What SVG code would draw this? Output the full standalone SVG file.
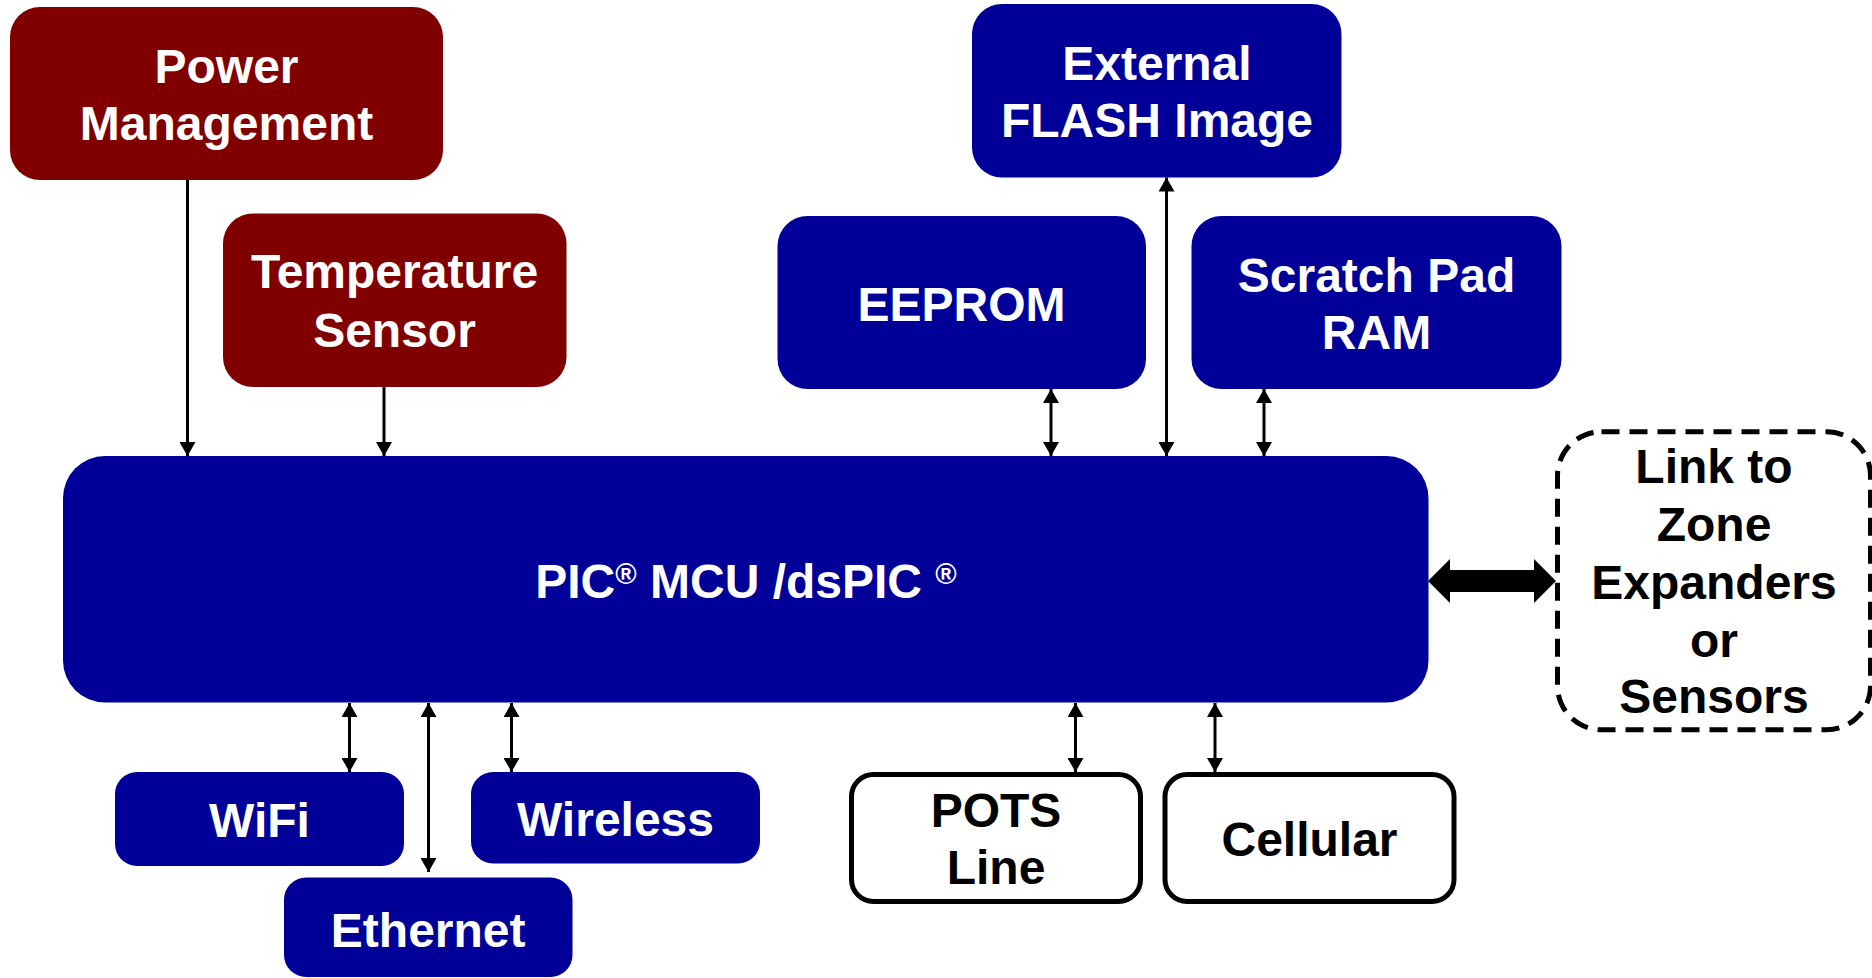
<svg xmlns="http://www.w3.org/2000/svg" width="1872" height="978" viewBox="0 0 1872 978">
<defs>
<style>
.red{fill:#800000}
.blue{fill:#000099}
.wt{fill:#ffffff;font-family:"Liberation Sans",Arial,sans-serif;font-weight:bold;font-size:48px;text-anchor:middle}
.bt{fill:#000000;font-family:"Liberation Sans",Arial,sans-serif;font-weight:bold;font-size:48px;text-anchor:middle}
.ob{fill:#ffffff;stroke:#000000;stroke-width:5}
.dash{fill:#ffffff;stroke:#000000;stroke-width:5;stroke-dasharray:18 10}
.ln{stroke:#000000;stroke-width:3;fill:none}
.one{marker-end:url(#ah)}
.two{marker-start:url(#ah);marker-end:url(#ah)}
</style>
<marker id="ah" markerUnits="userSpaceOnUse" markerWidth="16" markerHeight="16" refX="14" refY="8" orient="auto-start-reverse" viewBox="0 0 16 16">
<path d="M0,0 L14,8 L0,16 z" fill="#000000"/>
</marker>
</defs>
<rect width="1872" height="978" fill="#ffffff"/>

<g id="connectors">
<line class="ln one" x1="187.5" y1="180" x2="187.5" y2="456"/>
<line class="ln one" x1="384" y1="387" x2="384" y2="456"/>
<line class="ln two" x1="1051" y1="389" x2="1051" y2="456"/>
<line class="ln two" x1="1166.5" y1="177.5" x2="1166.5" y2="456"/>
<line class="ln two" x1="1264" y1="389" x2="1264" y2="456"/>
<line class="ln two" x1="349.5" y1="703" x2="349.5" y2="772"/>
<line class="ln two" x1="428.5" y1="703" x2="428.5" y2="872"/>
<line class="ln two" x1="511.5" y1="703" x2="511.5" y2="772"/>
<line class="ln two" x1="1075.5" y1="703" x2="1075.5" y2="772"/>
<line class="ln two" x1="1215" y1="703" x2="1215" y2="772"/>
<polygon points="1428,581 1450,559 1450,570 1534,570 1534,559 1556,581 1534,603 1534,592 1450,592 1450,603" fill="#000000"/>
</g>

<g id="power">
<rect class="red" x="10" y="7" width="433" height="173" rx="30"/>
<text class="wt" x="226.5" y="82.7">Power</text>
<text class="wt" x="226.5" y="140">Management</text>
</g>
<g id="temperature">
<rect class="red" x="223" y="213.5" width="343.5" height="173.5" rx="30"/>
<text class="wt" x="394.5" y="288.3">Temperature</text>
<text class="wt" x="394.5" y="346.7">Sensor</text>
</g>
<g id="flash">
<rect class="blue" x="972" y="4" width="369.5" height="173.5" rx="30"/>
<text class="wt" x="1157" y="80">External</text>
<text class="wt" x="1157" y="137.3">FLASH Image</text>
</g>
<g id="eeprom">
<rect class="blue" x="777.5" y="216" width="368.5" height="173" rx="30"/>
<text class="wt" x="961.5" y="320.7">EEPROM</text>
</g>
<g id="scratchpad">
<rect class="blue" x="1191.5" y="216" width="370" height="173" rx="30"/>
<text class="wt" x="1376.5" y="292">Scratch Pad</text>
<text class="wt" x="1376.5" y="349.3">RAM</text>
</g>
<g id="mcu">
<rect class="blue" x="63" y="456" width="1365.5" height="246.5" rx="42"/>
<text class="wt" x="746" y="597.7">PIC<tspan font-size="29" dy="-14">®</tspan><tspan dy="14"> MCU /dsPIC </tspan><tspan font-size="29" dy="-14">®</tspan></text>
</g>
<g id="link">
<rect class="dash" x="1557.5" y="431.8" width="313" height="298" rx="44"/>
<text class="bt" x="1714" y="483.3">Link to</text>
<text class="bt" x="1714" y="540.7">Zone</text>
<text class="bt" x="1714" y="599">Expanders</text>
<text class="bt" x="1714" y="656.7">or</text>
<text class="bt" x="1714" y="713.3">Sensors</text>
</g>
<g id="wifi">
<rect class="blue" x="115" y="772" width="289" height="94" rx="22"/>
<text class="wt" x="259.5" y="836.7">WiFi</text>
</g>
<g id="wireless">
<rect class="blue" x="471" y="772" width="289" height="91.5" rx="22"/>
<text class="wt" x="615.5" y="835.7">Wireless</text>
</g>
<g id="ethernet">
<rect class="blue" x="284" y="877.5" width="288.5" height="99.5" rx="22"/>
<text class="wt" x="428.2" y="946.7">Ethernet</text>
</g>
<g id="pots">
<rect class="ob" x="851.5" y="774.5" width="289" height="127" rx="22"/>
<text class="bt" x="996" y="826.7">POTS</text>
<text class="bt" x="996" y="884">Line</text>
</g>
<g id="cellular">
<rect class="ob" x="1165" y="774.5" width="289" height="127" rx="22"/>
<text class="bt" x="1309.5" y="856">Cellular</text>
</g>
</svg>
